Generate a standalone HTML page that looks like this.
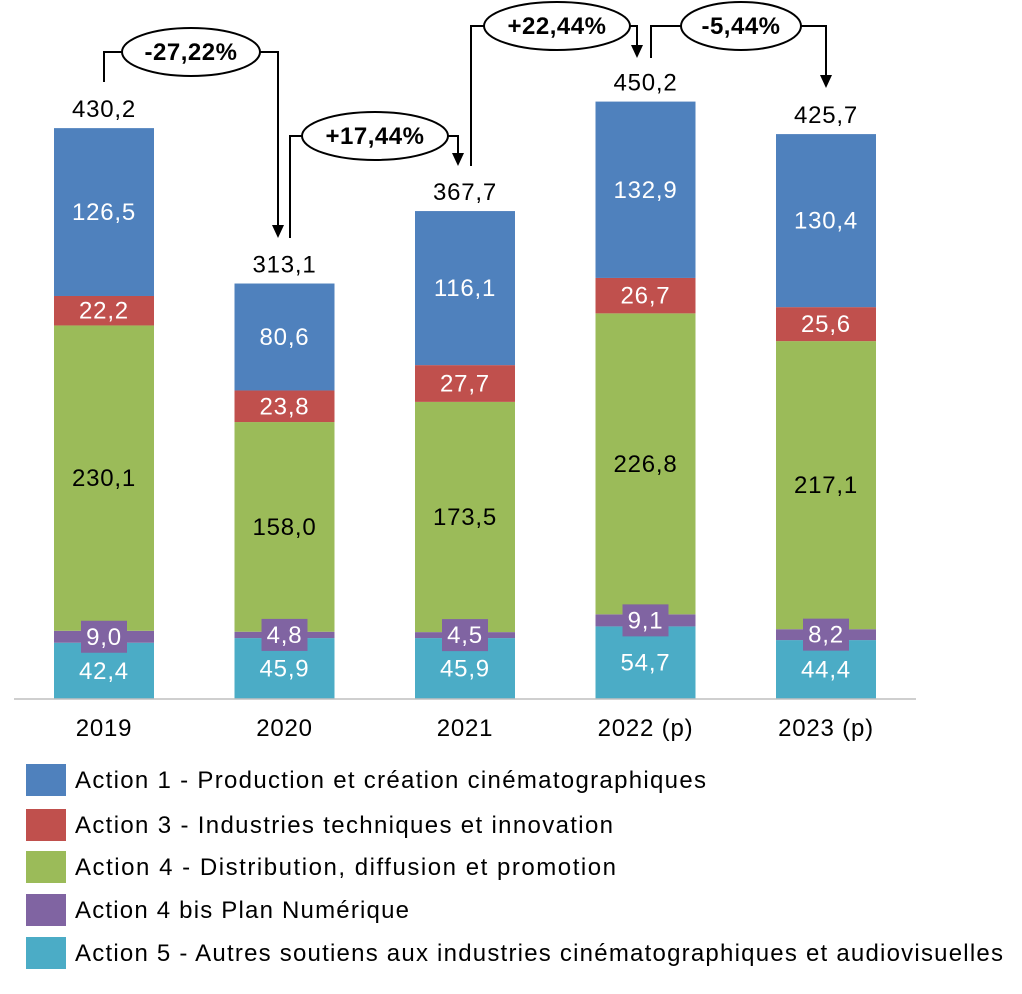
<!DOCTYPE html>
<html><head><meta charset="utf-8">
<style>
body{margin:0;background:#fff;}
svg text{font-family:"Liberation Sans",sans-serif;}
</style></head>
<body>
<svg id="chart" width="1022" height="989" xmlns="http://www.w3.org/2000/svg">
<g id="bars"></g>
<g id="labels"></g>
<line x1="14" y1="699" x2="916" y2="699" stroke="#bfbfbf" stroke-width="1.5"/>
<g id="arrows"></g>
<g id="legend"></g>
</svg>
<script>
const categories=["2019","2020","2021","2022 (p)","2023 (p)"];
const action5=[42.4,45.9,45.9,54.7,44.4];
const action4bis=[9.0,4.8,4.5,9.1,8.2];
const action4=[230.1,158.0,173.5,226.8,217.1];
const action3=[22.2,23.8,27.7,26.7,25.6];
const action1=[126.5,80.6,116.1,132.9,130.4];
const totals=[430.2,313.1,367.7,450.2,425.7];
const changes=["-27,22%","+17,44%","+22,44%","-5,44%"];
const seriesNames=["Action 1 - Production et création cinématographiques","Action 3 - Industries techniques et innovation","Action 4 - Distribution, diffusion et promotion","Action 4 bis Plan Numérique","Action 5 - Autres soutiens aux industries cinématographiques et audiovisuelles"];

const NS="http://www.w3.org/2000/svg";
const base=699, k=1.327, bw=100;
const y=v=>base-v*k;
const cx=i=>104+i*180.5;
function mk(t,a,p){const e=document.createElementNS(NS,t);for(const n in a)e.setAttribute(n,a[n]);p.appendChild(e);return e;}
const bars=document.getElementById('bars');
const labels=document.getElementById('labels');
const FS=24, LS=0.8;
const stack=[
 {d:action5,c:"#4BACC6",tc:"#fff",n:"action-5"},
 {d:action4bis,c:"#8064A2",tc:"#fff",n:"action-4bis",box:true},
 {d:action4,c:"#9BBB59",tc:"#000",n:"action-4"},
 {d:action3,c:"#C0504D",tc:"#fff",n:"action-3"},
 {d:action1,c:"#4F81BD",tc:"#fff",n:"action-1"}];
categories.forEach((cat,i)=>{
 let acc=0;
 stack.forEach(s=>{
  const v=s.d[i];
  const r=mk('rect',{x:cx(i)-bw/2,y:y(acc+v),width:bw,height:v*k,fill:s.c},bars);
  
  
  const mid=y(acc+v/2);
  if(s.box){
   const b=mk('rect',{x:cx(i)-23,y:mid-16,width:46,height:32,fill:s.c},labels);
   
   
  }
  const t=mk('text',{x:cx(i),y:mid+8,'text-anchor':'middle','font-size':FS,'letter-spacing':LS,fill:s.tc},labels);
  t.textContent=v.toFixed(1).replace('.',',');
  
  
  acc+=v;
 });
 const tt=mk('text',{x:cx(i),y:y(totals[i])-11,'text-anchor':'middle','font-size':FS,'letter-spacing':LS,fill:'#000'},labels);
 tt.textContent=totals[i].toFixed(1).replace('.',',');
 
 
 const ct=mk('text',{x:cx(i),y:736,'text-anchor':'middle','font-size':FS,'letter-spacing':LS,fill:'#000'},labels);
 ct.textContent=cat;
 
 
});
// arrows
const ar=document.getElementById('arrows');
const conn=[
 {x1:104,y1:82,x2:278,y2:238,h:52,ex:191,rx:69},
 {x1:290,y1:238,x2:458,y2:166,h:136,ex:375,rx:73},
 {x1:471,y1:166,x2:637,y2:58,h:26,ex:557,rx:73},
 {x1:651,y1:58,x2:826,y2:88,h:26,ex:741,rx:60}];
conn.forEach((c,i)=>{
 const p=mk('path',{d:`M${c.x1},${c.y1} V${c.h} H${c.x2} V${c.y2-12}`,fill:'none',stroke:'#000','stroke-width':2},ar);
 
 
 const h=mk('polygon',{points:`${c.x2-6},${c.y2-13} ${c.x2+6},${c.y2-13} ${c.x2},${c.y2}`,fill:'#000'},ar);
 
 
 const e=mk('ellipse',{cx:c.ex,cy:c.h,rx:c.rx,ry:24,fill:'#fff',stroke:'#000','stroke-width':2},ar);
 
 
 const t=mk('text',{x:c.ex,y:c.h+8,'text-anchor':'middle','font-size':24,'font-weight':'bold','letter-spacing':0.5,fill:'#000'},ar);
 t.textContent=changes[i];
 
 
});
// legend
const lg=document.getElementById('legend');
const lc=["#4F81BD","#C0504D","#9BBB59","#8064A2","#4BACC6"];
const ly=[780,825,867,910,953];
const lw=[631,538,541,334,928];
seriesNames.forEach((n,i)=>{
 const r=mk('rect',{x:26,y:ly[i]-16,width:40,height:32,fill:lc[i]},lg);
 
 
 const t=mk('text',{x:75,y:ly[i]+8,'font-size':FS,textLength:lw[i],lengthAdjust:'spacing',fill:'#000'},lg);
 t.textContent=n;
 
 
});
</script>
</body></html>
